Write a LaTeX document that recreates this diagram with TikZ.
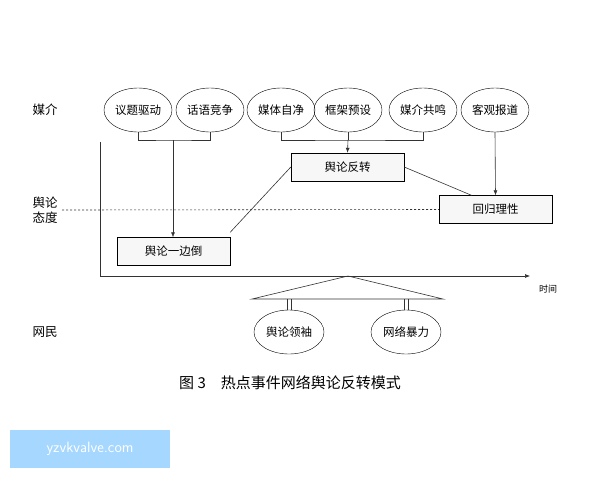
\documentclass[tikz,border=0pt]{standalone}
\usepackage{fontspec}
\newfontfamily\cjk{Noto Sans CJK SC}
\usetikzlibrary{arrows.meta,shapes.geometric}
\begin{document}
\begin{tikzpicture}[x=1pt,y=-1pt,font=\cjk\fontsize{11.5}{13}\selectfont,
  ell/.style={draw,ellipse,minimum width=68pt,minimum height=44pt,inner sep=0pt},
  stage/.style={draw,fill=gray!6,minimum width=113pt,minimum height=28pt,inner sep=0pt},
  ln/.style={draw=black!80,line width=0.6pt},
  arr/.style={ln,-{Latex[length=5pt,width=4pt]}}]
\useasboundingbox (0,0) rectangle (600,480);
\foreach \n/\x/\t in {a/138/议题驱动,b/210/话语竞争,c/281/媒体自净,d/348/框架预设,e/423/媒介共鸣,f/495/客观报道}
  \node[ell] (\n) at (\x,110) {\t};
\node[stage] (s1) at (173.5,251.5) {舆论一边倒};
\node[stage] (s2) at (347.5,167) {舆论反转};
\node[stage] (s3) at (495.5,209.5) {回归理性};
\draw[ln,dash pattern=on 2pt off 2pt] (62,210) -- (s3.west);
\coordinate (j1) at (173,140);
\coordinate (j2) at (348,140);
\draw[ln] (a.south) |- (j1) -| (b.south);
\draw[arr] (j1) -- (j1 |- s1.north);
\draw[ln] (c.south) |- (j2) -| (e.south);
\draw[ln] (d.south) -- (j2);
\draw[arr] (j2) -- (s2.north);
\draw[arr] (f.south) -- (s3.north);
\coordinate (p1) at ([yshift=5pt]s1.north east);
\draw[ln] (p1) -- (s2.west);
\draw[ln] (s2.east) -- ([xshift=-24pt]s3.north);
\coordinate (o) at (100,276);
\draw[ln] (100,142) -- (o);
\draw[arr] (o) -- (530,276);
\node (t) at (548,289) {\fontsize{9}{10}\selectfont 时间};
\coordinate (apex) at (348,276);
\draw[ln] (252,299) -- (apex) -- (443,299) -- cycle;
\node[ell,minimum width=70pt] (g1) at (289,332) {舆论领袖};
\node[ell,minimum width=70pt] (g2) at (406,332) {网络暴力};
\foreach \g in {g1,g2}{
  \draw[ln] ([xshift=-2pt]\g.north) -- ++(0,-11);
  \draw[ln] ([xshift=2pt]\g.north) -- ++(0,-11);}
\node[font=\cjk\fontsize{12.5}{15}\selectfont] (l1) at (45,110) {媒介};
\node[font=\cjk\fontsize{12.5}{15}\selectfont,align=center] (l2) at (45,210) {舆论\\态度};
\node[font=\cjk\fontsize{12.5}{15}\selectfont] (l3) at (45,332) {网民};
\node[font=\cjk\fontsize{15}{17}\selectfont] (cap) at (290,383) {图 3\quad 热点事件网络舆论反转模式};
\node[fill=blue!45!cyan!35,text=white,minimum width=160pt,minimum height=38pt,font=\fontsize{15}{17}\selectfont\sffamily] (wm) at (90,449) {yzvkvalve.com};
\end{tikzpicture}
\end{document}
